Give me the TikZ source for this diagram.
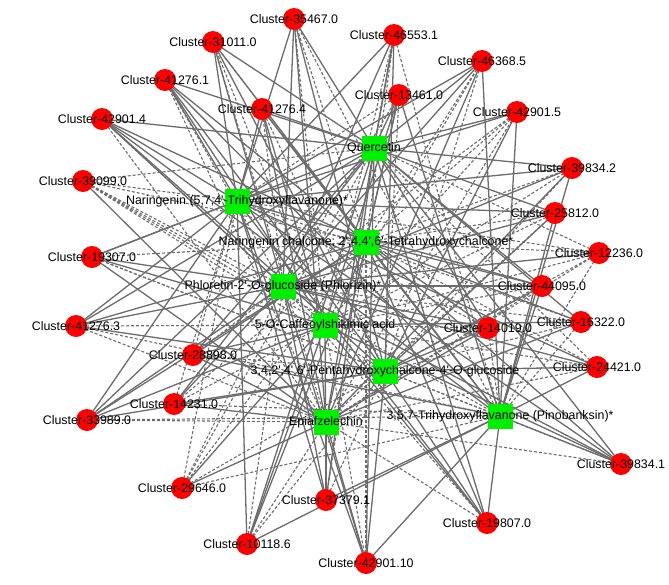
\documentclass[tikz,border=0pt]{standalone}
\usepackage{fontspec}
\newfontfamily\labfont{Liberation Sans}
\definecolor{edgegray}{RGB}{108,108,108}
\definecolor{nodered}{RGB}{255,0,0}
\definecolor{nodegreen}{RGB}{0,240,0}
\pgfdeclarelayer{bg}
\pgfsetlayers{bg,main}
\begin{document}
\begin{tikzpicture}[x=1pt,y=-1pt,
  clusternode/.style={circle,fill=nodered,minimum size=22pt,inner sep=0pt},
  metnode/.style={rectangle,fill=nodegreen,minimum size=25pt,inner sep=0pt},
  labtext/.style={font=\labfont\fontsize{12.4}{14}\selectfont,inner sep=0pt,text=black},
  posedge/.style={draw=edgegray,line width=1.3pt},
  negedge/.style={draw=edgegray,line width=1.1pt,dash pattern=on 3pt off 2pt}]
\useasboundingbox (0,0) rectangle (669,584);
% metabolites
\foreach \n/\x/\y in {
  Q/374/148, N/237/201, C/366/242, P/283/286,
  F/325/325, H/385/371, E/326/422, B/500/416}{
  \node[metnode] (\n) at (\x,\y) {};
}
% clusters and their connectors
\foreach \n/\x/\y/\S/\D in {
  k1/294/19/{Q,N,P,H,E}/{C,F,B},
  k2/213/42/{Q,N,P,H,B}/{C,F,E},
  k3/165/80/{Q,N,C,F,H,B}/{P,E},
  k4/262/109/{Q,N,C,F,E,B}/{P,H},
  k5/102/119/{Q,N,C,P,H,B}/{F,E},
  k6/83/181/{E}/{Q,N,C,P,F,H,B},
  k7/394/35/{Q,N,P,H,E}/{C,F,B},
  k8/482/61/{Q,N,P,E,B}/{C,F,H},
  k9/399/95/{Q,C,F,E,B}/{N,P,H},
  k10/517/112/{Q,N,H,B}/{C,P,F,E},
  k11/572/168/{Q,N,P,E,B}/{C,F,H},
  k12/92/257/{Q,N,P,F,E}/{C,H,B},
  k13/76/326/{Q,N,C,P,H}/{F,E,B},
  k14/193/355/{Q,C,F,E,B}/{N,P,H},
  k15/555/213/{Q,N,P,H,B}/{C,F,E},
  k16/599/253/{P}/{Q,N,C,F,H,E,B},
  k17/542/286/{Q,N,C,P,H,B}/{F,E},
  k18/581/322/{Q,C,F,E}/{N,P,H,B},
  k19/488/328/{Q,C,P,H,E}/{N,F,B},
  k20/597/367/{N,P,H,B}/{Q,C,F,E},
  k21/174/404/{Q,P,H,E}/{N,C,F,B},
  k22/87/420/{Q,N,C,P,F,H}/{E,B},
  k23/182/488/{F,E}/{Q,N,C,P,H,B},
  k24/247/544/{Q,N,C,F,B}/{P,H,E},
  k25/326/500/{Q,N,P,F,E,B}/{C,H},
  k26/366/563/{Q,N,P,H,E,B}/{C,F},
  k27/487/523/{Q,N,C,F,H,B}/{P,E},
  k28/621/464/{Q,N,C,P,F,B}/{H,E}}{
  \node[clusternode] (\n) at (\x,\y) {};
  \begin{pgfonlayer}{bg}
    \foreach \m in \S {\draw[posedge] (\n.center) -- (\m.center);}
    \foreach \m in \D {\draw[negedge] (\n.center) -- (\m.center);}
  \end{pgfonlayer}
}
% labels on top
\foreach \n/\t in {
  Q/{Quercetin},
  N/{Naringenin (5,7,4'-Trihydroxyflavanone)*},
  C/{Naringenin chalcone; 2',4,4',6'-Tetrahydroxychalcone*},
  P/{Phloretin-2'-O-glucoside (Phlorizin)*},
  F/{5-O-Caffeoylshikimic acid},
  H/{3,4,2',4',6'-Pentahydroxychalcone-4'-O-glucoside},
  E/{Epiafzelechin},
  B/{3,5,7-Trihydroxyflavanone (Pinobanksin)*},
  k1/{Cluster-35467.0}, k2/{Cluster-31011.0}, k3/{Cluster-41276.1},
  k4/{Cluster-41276.4}, k5/{Cluster-42901.4}, k6/{Cluster-39099.0},
  k7/{Cluster-46553.1}, k8/{Cluster-46368.5}, k9/{Cluster-13461.0},
  k10/{Cluster-42901.5}, k11/{Cluster-39834.2}, k12/{Cluster-19307.0},
  k13/{Cluster-41276.3}, k14/{Cluster-28898.0}, k15/{Cluster-25812.0},
  k16/{Cluster-12236.0}, k17/{Cluster-44095.0}, k18/{Cluster-16322.0},
  k19/{Cluster-14019.0}, k20/{Cluster-24421.0}, k21/{Cluster-14231.0},
  k22/{Cluster-33989.0}, k23/{Cluster-29646.0}, k24/{Cluster-10118.6},
  k25/{Cluster-37379.1}, k26/{Cluster-42901.10}, k27/{Cluster-19807.0},
  k28/{Cluster-39834.1}}{
  \node[labtext] (lab-\n) at (\n.center) {\t};
}
\end{tikzpicture}
\end{document}
